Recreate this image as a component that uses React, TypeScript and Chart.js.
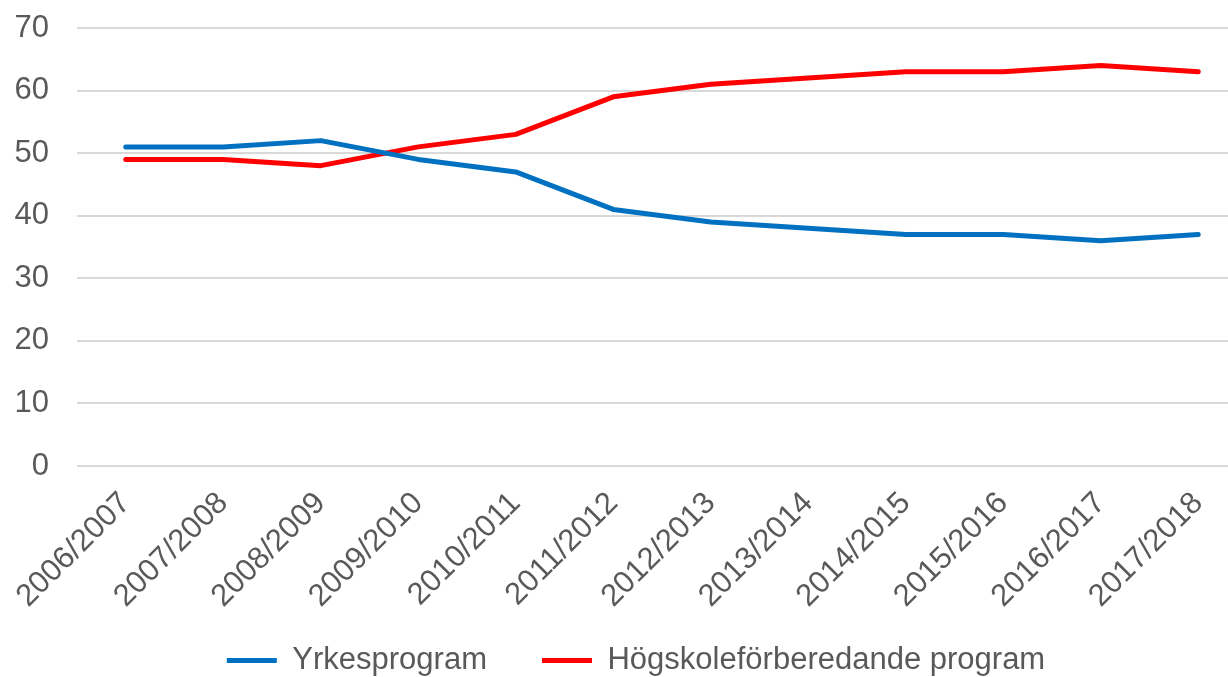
import React, { useEffect, useRef } from "react";
import { Chart, registerables } from "chart.js";

Chart.register(...registerables);

const categories = [
  "2006/2007", "2007/2008", "2008/2009", "2009/2010", "2010/2011", "2011/2012",
  "2012/2013", "2013/2014", "2014/2015", "2015/2016", "2016/2017", "2017/2018",
];
const yrkesprogram = [51, 51, 52, 49, 47, 41, 39, 38, 37, 37, 36, 37];
const hogskoleforberedande = [49, 49, 48, 51, 53, 59, 61, 62, 63, 63, 64, 63];
const seriesNames = ["Yrkesprogram", "Högskoleförberedande program"];
const yMin = 0;
const yMax = 70;
const yStep = 10;

const FONT = "'Liberation Sans', Arial, sans-serif";
const TEXT = "#595959";
const FS = 31;

const layoutTweak = {
  id: "layoutTweak",
  afterLayout(chart: any) {
    const l = chart.legend;
    if (l) {
      l.left += 22;
      l.right += 22;
      l.top += 9;
      l.bottom += 9;
    }
    const x = chart.scales.x;
    if (x) x.bottom = chart.height;
  },
};

export default function App() {
  const ref = useRef<HTMLCanvasElement>(null);
  useEffect(() => {
    if (!ref.current) return;
    const toPts = (arr: number[]) => arr.map((v, i) => ({ x: i, y: v }));
    const chart = new Chart(ref.current, {
      type: "line",
      data: {
        datasets: [
          {
            label: seriesNames[0],
            data: toPts(yrkesprogram),
            borderColor: "#0070C0",
            backgroundColor: "#0070C0",
            borderWidth: 5,
            pointRadius: 0,
            tension: 0,
            borderCapStyle: "round",
            borderJoinStyle: "round",
          },
          {
            label: seriesNames[1],
            data: toPts(hogskoleforberedande),
            borderColor: "#FF0000",
            backgroundColor: "#FF0000",
            borderWidth: 5,
            pointRadius: 0,
            tension: 0,
            borderCapStyle: "round",
            borderJoinStyle: "round",
          },
        ],
      },
      options: {
        responsive: false,
        animation: false,
        layout: { padding: { top: 28, left: 0, right: 0, bottom: 0 } },
        plugins: {
          tooltip: { enabled: false },
          legend: {
            position: "bottom",
            labels: {
              usePointStyle: true,
              pointStyle: "line",
              pointStyleWidth: 50,
              padding: 55,
              color: TEXT,
              font: { family: FONT, size: FS },
            },
          },
        },
        scales: {
          x: {
            type: "linear",
            min: -0.5,
            max: 11.305,
            grid: { display: false, drawTicks: false },
            border: { display: false },
            ticks: {
              stepSize: 1,
              includeBounds: false,
              autoSkip: false,
              maxRotation: 45,
              minRotation: 45,
              padding: 19,
              color: TEXT,
              font: { family: FONT, size: FS },
              callback: (v: any) =>
                Number.isInteger(v) && categories[v] !== undefined ? categories[v] : "",
            },
            afterFit: (s: any) => {
              s.height = 115;
              s.paddingLeft = 0;
              s.paddingRight = 0;
            },
          },
          y: {
            min: yMin,
            max: yMax,
            grid: { color: "#D9D9D9", lineWidth: 2, drawTicks: false },
            border: { display: false },
            ticks: {
              stepSize: yStep,
              padding: 28,
              color: TEXT,
              font: { family: FONT, size: FS },
            },
            afterFit: (s: any) => {
              s.width = 77;
              s.paddingTop = 0;
              s.paddingBottom = 0;
            },
          },
        },
      },
      plugins: [layoutTweak],
    } as any);
    return () => chart.destroy();
  }, []);
  return (
    <div style={{ position: "fixed", left: 0, top: 0, width: 1228, height: 677, overflow: "hidden", background: "#fff" }}>
      <canvas ref={ref} width={1228} height={677} style={{ display: "block" }} />
    </div>
  );
}
